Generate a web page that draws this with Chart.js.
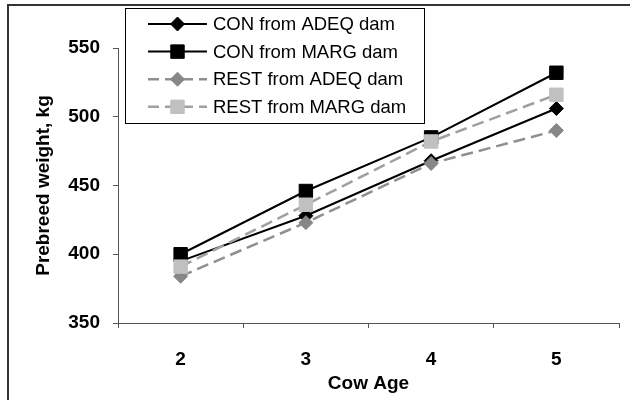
<!DOCTYPE html>
<html>
<head>
<meta charset="utf-8">
<script src="https://cdn.jsdelivr.net/npm/chart.js@4"></script>
<style>
  body { margin: 0; background: #fff; overflow: hidden; }
  #wrap { position: relative; width: 630px; height: 400px; }
  #frame { position: absolute; left: 7px; top: 4px; width: 640px; height: 420px; border: 2px solid #333; }
  canvas { position: absolute; left: 0; top: 0; }
</style>
</head>
<body>
<div id="wrap">
  <div id="frame"></div>
  <canvas id="weightChart" width="630" height="400"></canvas>
</div>
<script>
// Datos
const cowAges = ['2', '3', '4', '5'];
const seriesNames = ['CON from ADEQ dam', 'CON from MARG dam', 'REST from ADEQ dam', 'REST from MARG dam'];
const conAdeq = [395, 428, 468, 506];
const conMarg = [400, 446, 485, 532];
const restAdeq = [384, 423, 466, 490];
const restMarg = [391, 436, 482, 516];
const yTicks = [350, 400, 450, 500, 550];

const FONT = 'Arial, "Liberation Sans", sans-serif';

const makeSet = (label, data, line, marker, style, radius, dash, order) => ({
    label,
    data,
    borderColor: line,
    backgroundColor: marker,
    borderWidth: dash.length ? 2.5 : 2,
    borderDash: dash,
    pointStyle: style,
    pointRadius: radius,
    pointHoverRadius: radius,
    pointBackgroundColor: marker,
    pointBorderColor: marker,
    pointBorderWidth: 1,
    tension: 0,
    fill: false,
    order
});

const datasets = [
    makeSet(seriesNames[0], conAdeq, '#000', '#000', 'rectRot', 7, [], 3),
    makeSet(seriesNames[1], conMarg, '#000', '#000', 'rect', 9.5, [], 2),
    makeSet(seriesNames[2], restAdeq, '#8f8f8f', '#878787', 'rectRot', 7, [12, 6], 1),
    makeSet(seriesNames[3], restMarg, '#a0a0a0', '#c0c0c0', 'rect', 9.5, [12, 6], 0)
];

// Leyenda dibujada dentro del área, como en el original
const boxLegend = {
    id: 'boxLegend',
    afterDraw(chart) {
        const ctx = chart.ctx;
        const x0 = 125.5, y0 = 8.5, w = 299, h = 115;
        ctx.save();
        ctx.fillStyle = '#fff';
        ctx.fillRect(x0, y0, w, h);
        ctx.strokeStyle = '#000';
        ctx.lineWidth = 1;
        ctx.strokeRect(x0, y0, w, h);
        ctx.font = '18.5px ' + FONT;
        ctx.textBaseline = 'middle';
        chart.data.datasets.forEach((ds, i) => {
            const y = 24 + i * 27.6;
            ctx.strokeStyle = ds.borderColor;
            ctx.lineWidth = ds.borderWidth;
            ctx.setLineDash(ds.borderDash.length ? [11, 6] : []);
            ctx.beginPath();
            ctx.moveTo(148, y);
            ctx.lineTo(207, y);
            ctx.stroke();
            ctx.setLineDash([]);
            ctx.fillStyle = ds.pointBackgroundColor;
            ctx.strokeStyle = ds.pointBorderColor;
            ctx.lineWidth = 1;
            Chart.helpers.drawPoint(ctx, { pointStyle: ds.pointStyle, radius: ds.pointRadius, borderWidth: 1 }, 177.5, y);
            ctx.fillStyle = '#000';
            ctx.fillText(ds.label, 213, y + 1);
        });
        ctx.restore();
    }
};

new Chart(document.getElementById('weightChart'), {
    type: 'line',
    data: { labels: cowAges, datasets },
    plugins: [boxLegend],
    options: {
        responsive: false,
        animation: false,
        layout: { padding: { top: 48, right: 11, left: 0, bottom: 0 } },
        plugins: { legend: { display: false }, tooltip: { enabled: false } },
        scales: {
            x: {
                offset: true,
                grid: { offset: true, drawOnChartArea: false, tickLength: 5, color: '#555', lineWidth: 1 },
                border: { color: '#555', width: 1 },
                ticks: { color: '#000', padding: 20, font: { family: FONT, size: 19, weight: 'bold' } },
                title: { display: true, text: 'Cow Age', color: '#000', padding: { top: 0, bottom: 5 },
                         font: { family: FONT, size: 19, weight: 'bold' } },
                afterFit: (scale) => { scale.height = 77; }
            },
            y: {
                min: 350,
                max: 550,
                afterBuildTicks: (scale) => { scale.ticks = yTicks.map(v => ({ value: v })); },
                grid: { drawOnChartArea: false, tickLength: 5, color: '#555', lineWidth: 1 },
                border: { color: '#555', width: 1 },
                ticks: { color: '#000', padding: 13, font: { family: FONT, size: 19, weight: 'bold' } },
                title: { display: true, text: 'Prebreed weight, kg', color: '#000', padding: { top: 32, bottom: 0 },
                         font: { family: FONT, size: 19, weight: 'bold' } },
                afterFit: (scale) => { scale.width = 118; }
            }
        }
    }
});
</script>
</body>
</html>
